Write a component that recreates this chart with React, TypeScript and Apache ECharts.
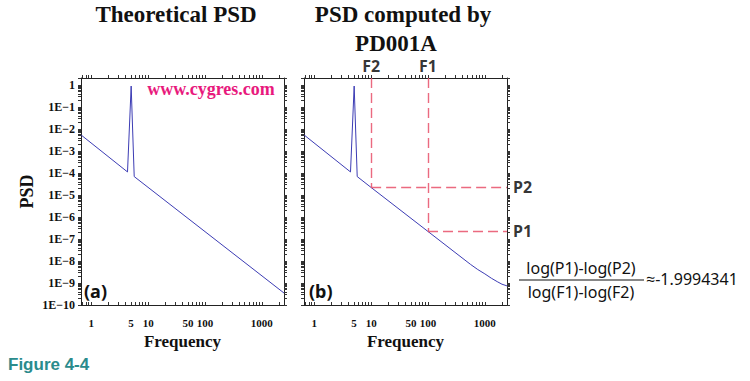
import React, { useEffect, useRef } from "react";
import * as echarts from "echarts";

// ---- data ----
const freqTheory = [0.667, 4.34, 5.03, 5.69, 2450];
const psdTheory = [5.3e-3, 1.12e-4, 0.9, 6.9e-5, 3.5e-10];

const freqComputed = [0.667, 4.34, 5.03, 5.69, 10, 100, 560, 750, 1000, 1300, 1650, 2000, 2450];
const psdComputed = [5.3e-3, 1.12e-4, 0.9, 6.9e-5, 2.2e-5, 2.2e-7, 7.0e-9, 4.1e-9, 2.6e-9, 1.65e-9, 1.15e-9, 8.8e-10, 7.4e-10];

const F1 = 100;
const F2 = 10;
const P1 = 2.2e-7;
const P2 = 2.2e-5;

const freqLabels = [1, 5, 10, 50, 100, 1000];
const psdLabelExponents = [0, -1, -2, -3, -4, -5, -6, -7, -8, -9, -10];
const slopeText = "≈-1.9994341";

const X_MIN = 0.66;
const X_MAX = 2450;
const Y_MIN = 1e-10;
const Y_MAX = 2.09;

const lg = (v: number) => Math.log10(v);

const xTickValues: number[] = [];
for (let n = -1; n <= 3; n++) {
  for (let k = 1; k <= 9; k++) {
    const v = k * Math.pow(10, n);
    if (v >= X_MIN && v <= X_MAX) xTickValues.push(lg(v));
  }
}
const yTickValues: number[] = [];
for (let n = -10; n <= 0; n++) {
  for (let k = 1; k <= 9; k++) {
    const v = k * Math.pow(10, n);
    if (v >= Y_MIN && v <= Y_MAX) yTickValues.push(lg(v));
  }
}

const SERIF = "'Liberation Serif', 'Times New Roman', serif";
const SANS = "'Noto Sans', 'Open Sans', sans-serif";

export default function App() {
  const ref = useRef<HTMLDivElement>(null);

  useEffect(() => {
    if (!ref.current) return;
    const chart = echarts.init(ref.current, undefined, { renderer: "svg" });

    const grids = [
      { left: 81, top: 78, width: 203, height: 227 },
      { left: 304, top: 78, width: 203, height: 227 },
    ];

    const axisLine = { show: true, onZero: false, lineStyle: { color: "#222", width: 1 } };
    const tickLine = { color: "#333", width: 1 };

    const xAxes: any[] = [];
    const yAxes: any[] = [];
    [0, 1].forEach((g) => {
      xAxes.push({
        type: "value",
        gridIndex: g,
        position: "bottom",
        min: lg(X_MIN),
        max: lg(X_MAX),
        axisLine,
        splitLine: { show: false },
        axisTick: {
          show: true,
          inside: true,
          length: 3,
          customValues: xTickValues,
          lineStyle: tickLine,
        },
        axisLabel: {
          show: true,
          customValues: freqLabels.map(lg),
          formatter: (v: number) => String(Math.round(Math.pow(10, v))),
          fontFamily: SERIF,
          fontWeight: "bold",
          fontSize: 11,
          color: "#111",
          margin: 12,
        },
        name: "Frequency",
        nameLocation: "middle",
        nameGap: 24,
        nameTextStyle: { fontFamily: SERIF, fontWeight: "bold", fontSize: 17, color: "#111" },
      });
      xAxes.push({
        type: "value",
        gridIndex: g,
        position: "top",
        min: lg(X_MIN),
        max: lg(X_MAX),
        axisLine,
        splitLine: { show: false },
        axisTick: { show: true, length: 3, customValues: xTickValues, lineStyle: tickLine },
        axisLabel: { show: false },
      });
      yAxes.push({
        type: "value",
        gridIndex: g,
        position: "left",
        min: lg(Y_MIN),
        max: lg(Y_MAX),
        axisLine,
        splitLine: { show: false },
        axisTick: { show: true, length: 3, customValues: yTickValues, lineStyle: tickLine },
        axisLabel: {
          show: g === 0,
          customValues: psdLabelExponents,
          formatter: (v: number) => {
            const e = Math.round(v);
            return e === 0 ? "1" : "1E" + String(e).replace("-", "\u2212");
          },
          fontFamily: SERIF,
          fontWeight: "bold",
          fontSize: 12,
          color: "#111",
          margin: 6,
        },
        name: g === 0 ? "PSD" : "",
        nameLocation: "middle",
        nameRotate: 90,
        nameGap: 45,
        nameTextStyle: { fontFamily: SERIF, fontWeight: "bold", fontSize: 18, color: "#111" },
      });
      yAxes.push({
        type: "value",
        gridIndex: g,
        position: "right",
        min: lg(Y_MIN),
        max: lg(Y_MAX),
        axisLine,
        splitLine: { show: false },
        axisTick: { show: true, length: 3, customValues: yTickValues, lineStyle: tickLine },
        axisLabel: { show: false },
      });
    });

    const dashStyle = { color: "#e8506a", width: 1.4, type: [10, 5] as any, opacity: 0.85 };
    const fLabel = { show: true, fontFamily: SANS, fontWeight: "bold", fontSize: 16, color: "#111" };

    const option: any = {
      animation: false,
      backgroundColor: "#ffffff",
      grid: grids,
      xAxis: xAxes,
      yAxis: yAxes,
      series: [
        {
          type: "line",
          xAxisIndex: 0,
          yAxisIndex: 0,
          showSymbol: false,
          symbol: "none",
          lineStyle: { color: "#3c3cb4", width: 1 },
          data: freqTheory.map((f, i) => [lg(f), lg(psdTheory[i])]),
        },
        {
          type: "line",
          xAxisIndex: 2,
          yAxisIndex: 2,
          showSymbol: false,
          symbol: "none",
          smooth: false,
          lineStyle: { color: "#3c3cb4", width: 1 },
          data: freqComputed.map((f, i) => [lg(f), lg(psdComputed[i])]),
          markLine: {
            silent: true,
            symbol: ["none", "none"],
            lineStyle: dashStyle,
            label: { ...fLabel, formatter: "{b}" },
            data: [
              [
                { name: "F2", coord: [lg(F2), lg(Y_MAX)], label: { ...fLabel, position: "start", distance: 4, formatter: "{b}" }, lineStyle: dashStyle },
                { coord: [lg(F2), lg(P2)] },
              ],
              [
                { name: "F1", coord: [lg(F1), lg(Y_MAX)], label: { ...fLabel, position: "start", distance: 4, formatter: "{b}" }, lineStyle: dashStyle },
                { coord: [lg(F1), lg(P1)] },
              ],
              [
                { name: "P2", coord: [lg(F2), lg(P2)], label: { ...fLabel, position: "end", distance: 6, formatter: "{b}" }, lineStyle: dashStyle },
                { coord: [lg(X_MAX), lg(P2)] },
              ],
              [
                { name: "P1", coord: [lg(F1), lg(P1)], label: { ...fLabel, position: "end", distance: 6, formatter: "{b}" }, lineStyle: dashStyle },
                { coord: [lg(X_MAX), lg(P1)] },
              ],
            ],
          },
        },
      ],
      graphic: [
        {
          type: "text",
          x: 176,
          y: 14,
          style: { text: "Theoretical PSD", font: `bold 23px ${SERIF}`, fill: "#111", align: "center", verticalAlign: "middle" },
        },
        {
          type: "text",
          x: 403,
          y: 14,
          style: { text: "PSD computed by", font: `bold 23px ${SERIF}`, fill: "#111", align: "center", verticalAlign: "middle" },
        },
        {
          type: "text",
          x: 396,
          y: 43,
          style: { text: "PD001A", font: `bold 23px ${SERIF}`, fill: "#111", align: "center", verticalAlign: "middle" },
        },
        {
          type: "text",
          x: 211,
          y: 89,
          style: { text: "www.cygres.com", font: `bold 18px ${SERIF}`, fill: "#e8197d", align: "center", verticalAlign: "middle" },
        },
        {
          type: "text",
          x: 84,
          y: 291,
          style: { text: "(a)", font: `bold 18px ${SANS}`, fill: "#111", align: "left", verticalAlign: "middle" },
        },
        {
          type: "text",
          x: 309,
          y: 291,
          style: { text: "(b)", font: `bold 18px ${SANS}`, fill: "#111", align: "left", verticalAlign: "middle" },
        },
        {
          type: "text",
          x: 581,
          y: 268,
          style: { text: "log(P1)-log(P2)", font: `16px ${SANS}`, fill: "#111", align: "center", verticalAlign: "middle" },
        },
        {
          type: "line",
          shape: { x1: 519, y1: 280, x2: 644, y2: 280 },
          style: { stroke: "#111", lineWidth: 1 },
        },
        {
          type: "text",
          x: 581,
          y: 292,
          style: { text: "log(F1)-log(F2)", font: `16px ${SANS}`, fill: "#111", align: "center", verticalAlign: "middle" },
        },
        {
          type: "text",
          x: 646,
          y: 279,
          style: { text: slopeText, font: `16px ${SANS}`, fill: "#111", align: "left", verticalAlign: "middle" },
        },
        {
          type: "text",
          x: 8,
          y: 364,
          style: { text: "Figure 4-4", font: `bold 17px 'Liberation Sans', Arial, sans-serif`, fill: "#2a8b8c", align: "left", verticalAlign: "middle" },
        },
      ],
    };

    chart.setOption(option);
    return () => chart.dispose();
  }, []);

  return (
    <div
      ref={ref}
      style={{ position: "fixed", left: 0, top: 0, width: 750, height: 381, background: "#fff" }}
    />
  );
}
